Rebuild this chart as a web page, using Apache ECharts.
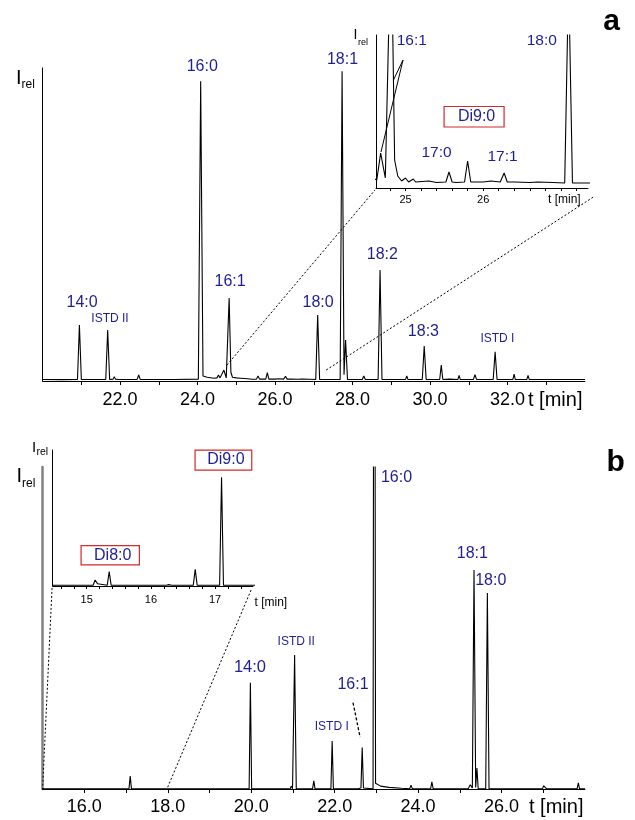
<!DOCTYPE html>
<html><head><meta charset="utf-8">
<script src="https://cdn.jsdelivr.net/npm/echarts@6/dist/echarts.min.js"></script>
<style>html,body{margin:0;padding:0;background:#fff}#c{width:635px;height:820px}</style>
</head><body><div id="c"></div>
<script>
// ---------- DATA ----------
// Chromatogram a: [retention time t (min), relative intensity]
const traceA = [
 [20.0,0.5],[20.5,0.45],[20.9,0.5],[20.95,17.9],[21.0,0.5],[21.63,0.5],[21.68,16.3],[21.73,0.5],
 [21.82,0.6],[21.85,1.4],[21.88,0.6],[21.92,1.2],[21.95,0.5],[22.44,0.5],[22.48,1.9],[22.52,0.5],
 [22.92,0.5],[22.95,0.9],[22.98,0.5],[23.35,0.5],[23.38,0.8],[23.41,0.5],[24.02,0.6],[24.08,95.8],
 [24.14,1.6],[24.25,1.2],[24.42,0.9],[24.5,1.0],[24.54,1.9],[24.58,1.0],[24.63,0.8],[24.68,3.5],
 [24.74,1.0],[24.815,26.5],[24.86,2.8],[24.9,1.2],[24.95,0.7],[25.0,1.0],[25.04,0.6],[25.1,0.9],
 [25.13,0.6],[25.3,0.7],[25.4,0.55],[25.52,0.6],[25.56,1.6],[25.6,0.6],[25.65,0.55],[25.76,0.6],
 [25.8,2.7],[25.84,0.6],[26.0,0.6],[26.1,0.7],[26.22,0.6],[26.27,1.5],[26.31,0.6],[26.4,0.6],
 [26.6,0.55],[26.7,0.6],[26.9,0.55],[27.05,0.5],[27.1,21.1],[27.15,0.5],[27.68,0.5],[27.73,99],
 [27.78,2.0],[27.82,13.1],[27.87,0.5],[28.25,0.5],[28.29,1.6],[28.33,0.5],[28.66,0.5],[28.71,35.5],
 [28.76,0.5],[29.37,0.5],[29.4,1.6],[29.43,0.5],[29.8,0.5],[29.85,11.2],[29.9,0.5],[30.25,0.5],
 [30.29,5.1],[30.33,0.5],[30.5,0.6],[30.52,1.0],[30.55,0.5],[30.72,0.5],[30.75,1.8],[30.78,0.5],
 [31.12,0.5],[31.16,2.0],[31.2,0.5],[31.63,0.5],[31.68,9.3],[31.73,0.5],[32.14,0.5],[32.17,2.2],
 [32.2,0.5],[32.5,0.5],[32.53,1.8],[32.56,0.5],[33.3,0.5],[33.33,0.8],[33.36,0.5],[34.0,0.5]
];
// Chromatogram b: [retention time t (min), relative intensity]
const traceB = [
 [14.4,0.03],[14.95,0.03],[14.97,0.08],[14.99,0.03],[15.1,0.03],[15.13,0.22],[15.17,0.08],[15.2,0.03],
 [15.32,0.03],[15.35,0.53],[15.38,0.03],[16.24,0.03],[16.26,0.09],[16.28,0.05],[16.3,0.09],[16.32,0.03],
 [16.66,0.03],[16.69,0.61],[16.72,0.03],[17.07,0.03],[17.1,4.0],[17.13,0.03],[19.95,0.03],[19.98,33],
 [20.01,0.03],[20.93,0.03],[20.96,0.9],[20.99,0.1],[21.04,41.6],[21.08,0.03],[21.47,0.03],[21.5,2.5],
 [21.53,0.03],[21.91,0.03],[21.94,14.9],[21.97,0.03],[22.4,0.05],[22.42,0.4],[22.44,0.05],[22.56,0.1],
 [22.6,0.5],[22.63,0.3],[22.66,12.9],[22.69,0.3],[22.72,0.05],[22.92,0.05],[22.95,300],[22.98,1.8],
 [23.1,0.9],[23.3,0.5],[23.6,0.25],[23.8,0.1],[23.83,1.2],[23.86,0.1],[23.98,0.1],[24.0,0.6],
 [24.02,0.1],[24.3,0.1],[24.33,2.2],[24.36,0.1],[25.2,0.1],[25.25,1.3],[25.3,0.3],[25.34,68],
 [25.38,0.5],[25.41,6.5],[25.44,0.1],[25.62,0.05],[25.66,60.9],[25.7,0.05],[26.44,0.05],[26.46,0.35],
 [26.48,0.05],[26.98,0.05],[27.01,1.0],[27.03,0.7],[27.05,1.2],[27.08,0.05],[27.81,0.05],[27.84,1.9],
 [27.87,0.05],[28.0,0.05]
];
// tick positions and tick labels (min)
const ticksMainA  = [21,22,23,24,25,26,27,28,29,30,31,32,33];
const labelsMainA = [22,24,26,28,30,32];
const ticksInsetA = [24.8,25.0,25.2,25.4,25.6,25.8,26.0,26.2,26.4,26.6,26.8,27.0,27.2];
const labelsInsetA = [25,26];
const ticksMainB  = [16,17,18,19,20,21,22,23,24,25,26,27];
const labelsMainB = [16,18,20,22,24,26];
const ticksInsetB = [14.6,14.8,15.0,15.2,15.4,15.6,15.8,16.0,16.2,16.4,16.6,16.8,17.0,17.2,17.4];
const labelsInsetB = [15,16,17];
// peak names
const peakNamesA = ['14:0','ISTD II','16:0','16:1','18:0','18:1','18:2','18:3','ISTD I'];
const insetNamesA = ['16:1','18:0','17:0','17:1'];
const peakNamesB = ['14:0','ISTD II','ISTD I','16:1','16:0','18:1','18:0'];

// ---------- LAYOUT (annotation anchors in axis units; styles) ----------
const FONT = 'Arial, "Liberation Sans", Helvetica, sans-serif';
const BLUE = '#1e1e96';
const RED = '#d42a2a';
const anchorA = [[21.02,25.2,16],[21.74,19.8,12],[24.12,100.6,16],[24.84,31.6,16],[27.11,24.9,16],[27.74,102.6,16],[28.77,40.3,16],[29.83,15.7,16],[31.74,13.4,12]];
const anchorInsetA = [[25.08,14.7,15.5],[26.755,14.7,15.5],[25.40,3.5,15.5],[26.25,3.1,15.5]];
const anchorB = [[19.97,37.6,16.5,'center'],[21.08,45.7,12,'center'],[21.93,19.3,12,'center'],[22.44,32.3,16,'center'],[23.108,96.6,16,'left'],[25.30,73.2,16,'center'],[25.74,64.7,16,'center']];

const chart = echarts.init(document.getElementById('c'), null, {renderer:'canvas'});

function xAx(grid, min, max, ticks, labels, fs, margin, tickLen){
  return {type:'value', gridIndex:grid, min, max,
    axisLine:{onZero:false, lineStyle:{color:'#000', width:1}},
    axisTick:{show:true, customValues:ticks, length:tickLen, lineStyle:{color:'#000', width:1}},
    axisLabel:{customValues:labels, fontSize:fs, color:'#000', fontFamily:FONT, margin,
      formatter: v => fs > 14 ? v.toFixed(1) : String(v)},
    splitLine:{show:false}};
}
function yAx(grid, max, color, width){
  return {type:'value', gridIndex:grid, min:0, max,
    axisLine:{show:true, onZero:false, lineStyle:{color, width}},
    axisTick:{show:false}, axisLabel:{show:false}, splitLine:{show:false}};
}
function trace(data, idx){
  return {type:'line', data, xAxisIndex:idx, yAxisIndex:idx, symbol:'none', showSymbol:false,
    clip:true, lineStyle:{color:'#000', width:1.1}, silent:true, animation:false};
}

chart.setOption({
  animation:false,
  textStyle:{fontFamily:FONT},
  grid:[
    {left:42.6, top:68, width:542.4, height:313},
    {left:376, top:35, width:212, height:153},
    {left:42.6, top:467, width:542.4, height:322},
    {left:52.7, top:450, width:200.3, height:136}
  ],
  xAxis:[
    xAx(0, 20, 34, ticksMainA, labelsMainA, 18, 10, 4),
    xAx(1, 24.62, 27.35, ticksInsetA, labelsInsetA, 11, 6, 3),
    xAx(2, 15, 28, ticksMainB, labelsMainB, 18, 9, 4),
    xAx(3, 14.47, 17.59, ticksInsetB, labelsInsetB, 11, 8, 3)
  ],
  yAxis:[
    yAx(0, 100, '#000', 1),
    yAx(1, 15.3, '#000', 1),
    yAx(2, 100, '#808080', 2.5),
    yAx(3, 5, '#000', 1)
  ],
  series:[trace(traceA,0), trace(traceA,1), trace(traceB,2), trace(traceB,3)]
});

const px = (g, p) => chart.convertToPixel({gridIndex:g}, p);
const G = [];
function txt(x, y, text, fs, fill, align, weight){
  G.push({type:'text', x, y, silent:true, z:100, style:{text, fontSize:fs, fontFamily:FONT, fill:fill||'#000',
    align:align||'center', verticalAlign:'middle', fontWeight:weight||'normal'}});
}
function line(a, b, dash, width){
  G.push({type:'line', silent:true, z:90, shape:{x1:a[0], y1:a[1], x2:b[0], y2:b[1]},
    style:{stroke:'#000', lineWidth:width||1, lineDash:dash||null}});
}
function box(g, c, w, h, text){
  const p = px(g, c);
  G.push({type:'rect', silent:true, z:95, shape:{x:p[0]-w/2, y:p[1]-h/2, width:w, height:h},
    style:{fill:'#fff', stroke:RED, lineWidth:1.2}});
  txt(p[0]+2.5, p[1], text, 16, BLUE);
}
function irel(x, y, fsI, fsR, dx, dy){
  txt(x, y, 'I', fsI, '#000', 'left');
  txt(x+dx, y+dy, 'rel', fsR, '#000', 'left');
}

// peak labels
peakNamesA.forEach((n,i) => { const a = anchorA[i]; const p = px(0,[a[0],a[1]]); txt(p[0], p[1], n, a[2], BLUE); });
insetNamesA.forEach((n,i) => { const a = anchorInsetA[i]; const p = px(1,[a[0],a[1]]); txt(p[0], p[1], n, a[2], BLUE); });
peakNamesB.forEach((n,i) => { const a = anchorB[i]; const p = px(2,[a[0],a[1]]); txt(p[0], p[1], n, a[2], BLUE, a[3]); });

// 16:1 connectors in inset a
line(px(1,[24.968,12.8]), px(1,[24.684,3.6]), null, 1);
line(px(1,[24.968,12.8]), px(1,[24.845,10.8]), null, 1);
// 16:1 dashed connector in b
line(px(2,[22.44,26.8]), px(2,[22.61,16.1]), [3,2], 1.3);

// zoom guide lines (dotted)
line(px(0,[24.76,5.1]), px(1,[24.607,-0.2]), [2,2], 1);
line(px(0,[27.32,3.5]), px(1,[27.42,-0.9]), [2,2], 1);
line(px(3,[14.46,-0.07]), px(2,[15.0,0]), [2,2], 1);
line(px(3,[17.56,-0.15]), px(2,[17.98,0]), [2,2], 1);

// boxed labels
box(1, [25.883,7.125], 60, 20.5, 'Di9:0');
box(3, [15.366,1.13], 58.3, 19.3, 'Di8:0');
box(3, [17.129,4.63], 56.7, 20, 'Di9:0');

// axis titles
txt(528, 400, 't [min]', 20, '#000', 'left');
txt(529, 807, 't [min]', 20, '#000', 'left');
txt(548, 200, 't [min]', 12, '#000', 'left');
txt(254.5, 602.5, 't [min]', 12, '#000', 'left');
irel(16, 78, 20, 12, 5.5, 7);
irel(16.5, 476.5, 20, 12, 5.5, 7);
irel(353.5, 35, 14, 9, 4.5, 7.5);
irel(32, 447.5, 15, 10.5, 4.5, 5);
// panel letters
txt(611.7, 22, 'a', 30, '#000', 'center', 'bold');
txt(615.7, 462.5, 'b', 30, '#000', 'center', 'bold');

chart.setOption({graphic: G});
</script></body></html>
